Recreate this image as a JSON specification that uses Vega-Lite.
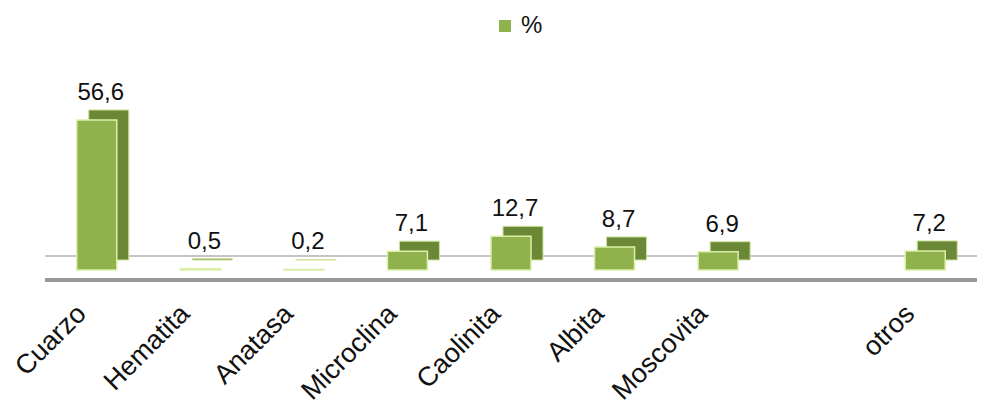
{
  "$schema": "https://vega.github.io/schema/vega-lite/v6.json",
  "width": 932,
  "height": 220,
  "autosize": {"type": "none"},
  "padding": {"left": 45, "right": 11, "top": 50, "bottom": 147},
  "background": "white",
  "config": {
    "view": {"stroke": null},
    "font": "Liberation Sans",
    "axisX": {
      "title": null,
      "domain": false,
      "ticks": false,
      "labelAngle": -45,
      "labelAlign": "right",
      "labelBaseline": "top",
      "labelFontSize": 27,
      "labelColor": "#111111",
      "labelPadding": 30,
      "labelOffset": -24
    }
  },
  "data": {
    "values": [
      {"mineral": "Cuarzo", "pct": 56.6, "etiqueta": "56,6", "serie": "%"},
      {"mineral": "Hematita", "pct": 0.5, "etiqueta": "0,5", "serie": "%"},
      {"mineral": "Anatasa", "pct": 0.2, "etiqueta": "0,2", "serie": "%"},
      {"mineral": "Microclina", "pct": 7.1, "etiqueta": "7,1", "serie": "%"},
      {"mineral": "Caolinita", "pct": 12.7, "etiqueta": "12,7", "serie": "%"},
      {"mineral": "Albita", "pct": 8.7, "etiqueta": "8,7", "serie": "%"},
      {"mineral": "Moscovita", "pct": 6.9, "etiqueta": "6,9", "serie": "%"},
      {"mineral": " ", "pct": null, "etiqueta": "", "serie": "%"},
      {"mineral": "otros", "pct": 7.2, "etiqueta": "7,2", "serie": "%"}
    ]
  },
  "layer": [
    {
      "mark": {"type": "rule", "color": "#c4c4c4", "strokeWidth": 1.5, "yOffset": -14},
      "encoding": {"y": {"datum": 0, "type": "quantitative", "scale": {"domain": [0, 83], "nice": false, "zero": true}, "axis": null}}
    },
    {
      "mark": {"type": "rule", "color": "#9a9a9a", "strokeWidth": 3, "yOffset": 10},
      "encoding": {"y": {"datum": 0, "type": "quantitative", "axis": null}}
    },
    {
      "mark": {"type": "bar", "size": 40, "xOffset": 12, "yOffset": -10, "color": "#6b8836", "stroke": "#cfe29a", "strokeWidth": 1},
      "encoding": {
        "x": {
          "field": "mineral",
          "type": "nominal",
          "sort": null,
          "title": null,
          "scale": {
            "domain": ["Cuarzo", "Hematita", "Anatasa", "Microclina", "Caolinita", "Albita", "Moscovita", " ", "otros"],
            "paddingInner": 0,
            "paddingOuter": 0
          }
        },
        "y": {"field": "pct", "type": "quantitative", "axis": null}
      }
    },
    {
      "mark": {"type": "bar", "size": 40, "stroke": "#dcefa8", "strokeWidth": 1.5},
      "encoding": {
        "x": {"field": "mineral", "type": "nominal", "sort": null, "title": null},
        "y": {"field": "pct", "type": "quantitative", "axis": null},
        "color": {
          "field": "serie",
          "type": "nominal",
          "scale": {"range": ["#8fb24c"]},
          "legend": {
            "title": null,
            "orient": "none",
            "legendX": 448,
            "legendY": -36,
            "symbolType": "square",
            "symbolSize": 144,
            "symbolStrokeWidth": 0,
            "labelFontSize": 24,
            "labelColor": "#111111"
          }
        }
      }
    },
    {
      "mark": {"type": "text", "fontSize": 24, "color": "#111111", "baseline": "alphabetic", "dy": -20, "dx": 4},
      "encoding": {
        "x": {"field": "mineral", "type": "nominal", "sort": null, "title": null},
        "y": {"field": "pct", "type": "quantitative", "axis": null},
        "text": {"field": "etiqueta", "type": "nominal"}
      }
    }
  ]
}
